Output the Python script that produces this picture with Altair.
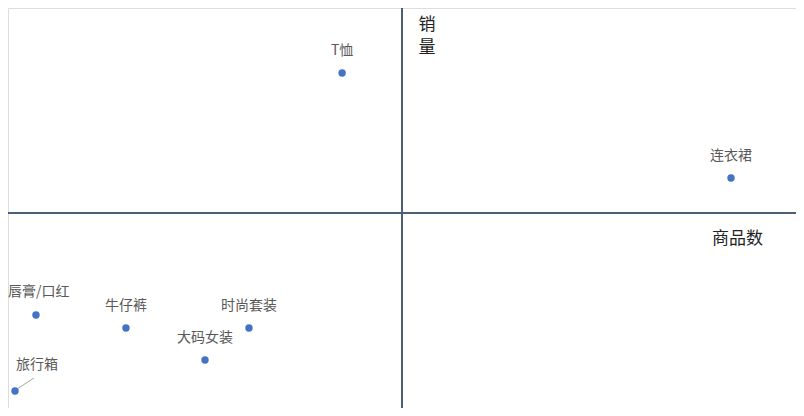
import altair as alt
import pandas as pd

# data (x: 商品数 scaled 0-100, y: 销量 scaled 0-100)
names = ["T恤", "连衣裙", "唇膏/口红", "牛仔裤", "时尚套装", "大码女装", "旅行箱"]
xs = [42.4, 91.75, 3.55, 14.97, 30.58, 25.0, 0.89]
ys = [83.75, 57.5, 23.25, 20.0, 20.0, 12.0, 4.25]
x_mid = 50.0
y_mid = 48.75

df = pd.DataFrame({"name": names, "x": xs, "y": ys})

xsc = alt.Scale(domain=[0, 100], nice=False, zero=False)
ysc = alt.Scale(domain=[0, 100], nice=False, zero=False)

line_color = "#4B6078"
pt_color = "#4472C4"
lab_color = "#595959"
font = "Noto Sans CJK SC"

X = alt.X("x:Q", scale=xsc, axis=None)
Y = alt.Y("y:Q", scale=ysc, axis=None)

vline = alt.Chart(pd.DataFrame({"x": [x_mid]})).mark_rule(
    color=line_color, strokeWidth=2
).encode(x=X)

hline = alt.Chart(pd.DataFrame({"y": [y_mid]})).mark_rule(
    color=line_color, strokeWidth=2
).encode(y=Y)

points = alt.Chart(df).mark_circle(size=55, color=pt_color, opacity=1).encode(x=X, y=Y)

main_names = ["T恤", "连衣裙", "牛仔裤", "时尚套装", "大码女装"]

labels = alt.Chart(df).transform_filter(
    alt.FieldOneOfPredicate(field="name", oneOf=main_names)
).mark_text(
    font=font, fontSize=14, color=lab_color, dy=-22, baseline="middle"
).encode(x=X, y=Y, text="name:N")

lab_lip = alt.Chart(df).transform_filter(alt.datum.name == "唇膏/口红").mark_text(
    font=font, fontSize=14, color=lab_color, dx=-28, dy=-23, baseline="middle", align="left"
).encode(x=X, y=Y, text="name:N")

lab_travel = alt.Chart(df).transform_filter(alt.datum.name == "旅行箱").mark_text(
    font=font, fontSize=14, color=lab_color, dx=22, dy=-26, baseline="middle"
).encode(x=X, y=Y, text="name:N")

leader = alt.Chart(df).transform_filter(alt.datum.name == "旅行箱").mark_rule(
    color="#A6A6A6", strokeWidth=1, xOffset=2, yOffset=-2, x2Offset=19, y2Offset=-13
).encode(x=X, y=Y, x2="x:Q", y2="y:Q")

ytitle = alt.Chart(pd.DataFrame({"x": [x_mid], "y": [100], "t": [["销", "量"]]})).mark_text(
    font=font, fontSize=17, color="#222222", dx=25, dy=9, baseline="top", lineHeight=23
).encode(x=X, y=Y, text="t")

xtitle = alt.Chart(pd.DataFrame({"x": [100], "y": [y_mid], "t": ["商品数"]})).mark_text(
    font=font, fontSize=17, color="#222222", dx=-33, dy=26, align="right", baseline="middle"
).encode(x=X, y=Y, text="t:N")

chart = alt.layer(
    vline, hline, leader, points, labels, lab_lip, lab_travel, ytitle, xtitle
).properties(
    width=788, height=400, padding=0, autosize=alt.AutoSizeParams(type="none")
).configure_view(strokeWidth=0, stroke="transparent").configure(background="white")

chart.save("out.html", embed_options={"renderer": "svg", "actions": False})
